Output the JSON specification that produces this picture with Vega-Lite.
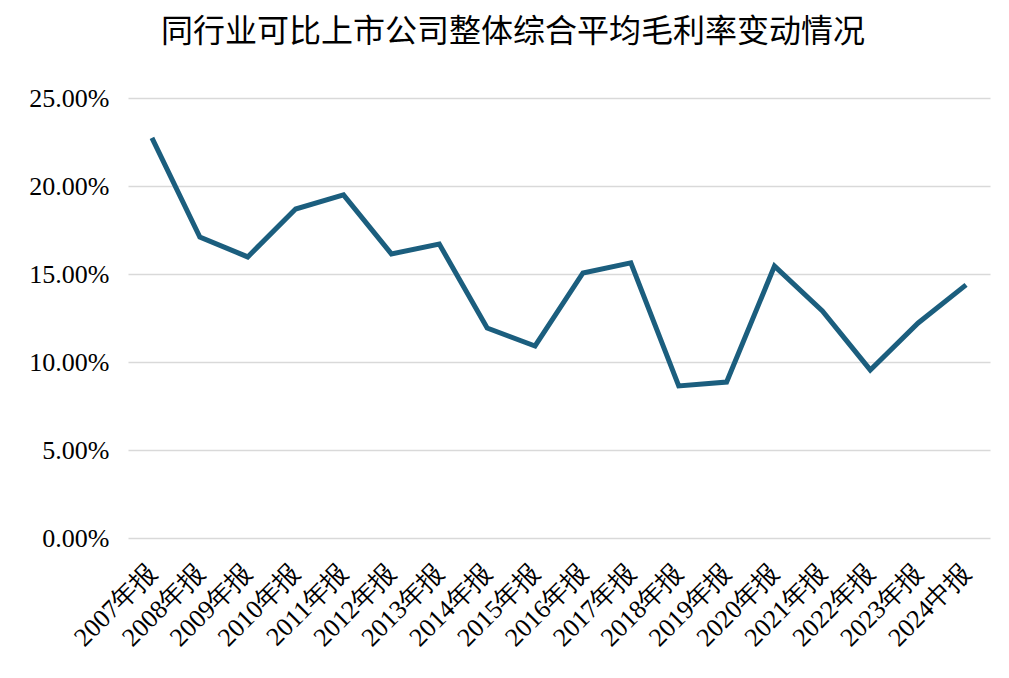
{
  "$schema": "https://vega.github.io/schema/vega-lite/v6.json",
  "autosize": "none",
  "width": 862,
  "height": 440,
  "padding": {"left": 128, "top": 98, "right": 19, "bottom": 140},
  "background": "white",
  "title": {
    "text": "同行业可比上市公司整体综合平均毛利率变动情况",
    "font": "Noto Sans CJK SC",
    "fontSize": 32,
    "fontWeight": "normal",
    "color": "#000000",
    "anchor": "middle",
    "dx": -46,
    "offset": 36
  },
  "data": {
    "values": [
      {"period": "2007年报", "margin": 0.2273},
      {"period": "2008年报", "margin": 0.1710},
      {"period": "2009年报", "margin": 0.1597},
      {"period": "2010年报", "margin": 0.1869},
      {"period": "2011年报", "margin": 0.1949},
      {"period": "2012年报", "margin": 0.1614},
      {"period": "2013年报", "margin": 0.1670},
      {"period": "2014年报", "margin": 0.1193},
      {"period": "2015年报", "margin": 0.1091},
      {"period": "2016年报", "margin": 0.1506},
      {"period": "2017年报", "margin": 0.1563},
      {"period": "2018年报", "margin": 0.0864},
      {"period": "2019年报", "margin": 0.0886},
      {"period": "2020年报", "margin": 0.1545},
      {"period": "2021年报", "margin": 0.1290},
      {"period": "2022年报", "margin": 0.0955},
      {"period": "2023年报", "margin": 0.1222},
      {"period": "2024中报", "margin": 0.1438}
    ]
  },
  "mark": {"type": "line", "color": "#1b5e7e", "strokeWidth": 5, "strokeJoin": "miter"},
  "encoding": {
    "x": {
      "field": "period",
      "type": "ordinal",
      "sort": null,
      "scale": {"type": "point", "padding": 0.5},
      "axis": {
        "title": null,
        "labelAngle": -45,
        "labelAlign": "right",
        "labelBaseline": "middle",
        "labelFont": "Liberation Serif",
        "labelFontSize": 26,
        "labelColor": "#000000",
        "labelPadding": 30,
        "ticks": false,
        "domain": false,
        "grid": false
      }
    },
    "y": {
      "field": "margin",
      "type": "quantitative",
      "scale": {"domain": [0, 0.25], "nice": false},
      "axis": {
        "title": null,
        "values": [0, 0.05, 0.1, 0.15, 0.2, 0.25],
        "format": ".2%",
        "labelFont": "Liberation Serif",
        "labelFontSize": 26,
        "labelColor": "#000000",
        "labelPadding": 19,
        "ticks": false,
        "domain": false,
        "grid": true,
        "gridColor": "#d9d9d9",
        "gridWidth": 1.5
      }
    }
  },
  "config": {"view": {"stroke": null}}
}
